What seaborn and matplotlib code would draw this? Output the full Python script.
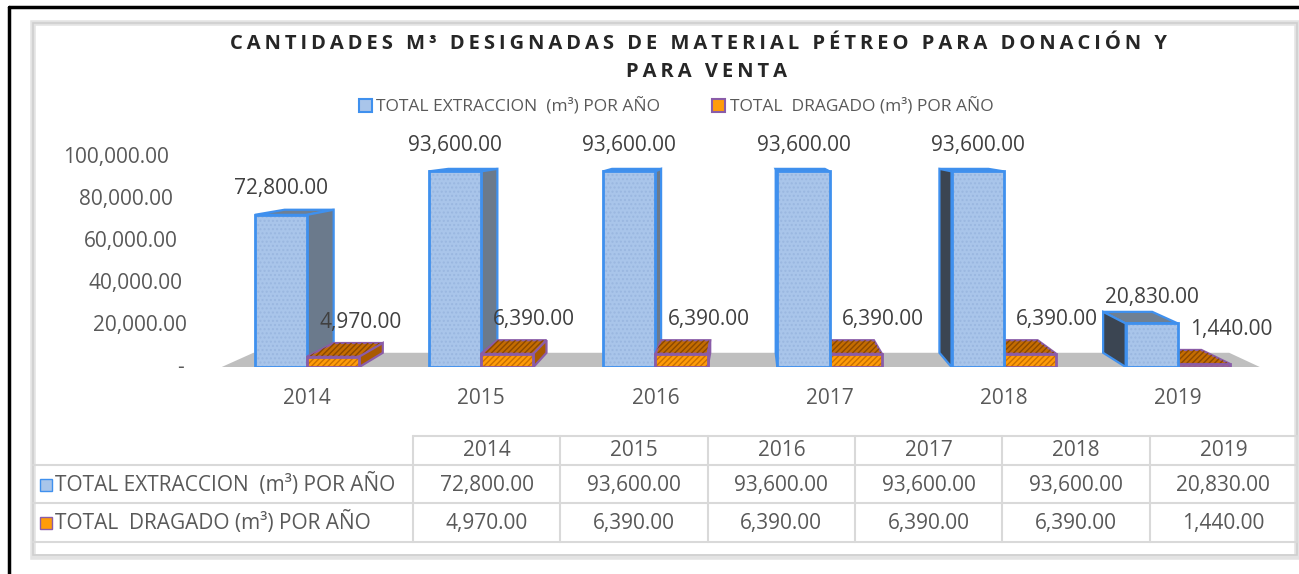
import matplotlib
matplotlib.use("Agg")
import matplotlib.pyplot as plt
import matplotlib.colors as mcolors
from matplotlib.patches import Polygon, Rectangle
from matplotlib.lines import Line2D
import seaborn as sns
import numpy as np
import pandas as pd

# datos
years = ["2014", "2015", "2016", "2017", "2018", "2019"]
extraccion = [72800.00, 93600.00, 93600.00, 93600.00, 93600.00, 20830.00]
dragado = [4970.00, 6390.00, 6390.00, 6390.00, 6390.00, 1440.00]
serie_ext = "TOTAL EXTRACCION  (m³) POR AÑO"
serie_dra = "TOTAL  DRAGADO (m³) POR AÑO"
yticks = [0, 20000, 40000, 60000, 80000, 100000]
ytick_labels = ["-", "20,000.00", "40,000.00", "60,000.00", "80,000.00", "100,000.00"]
title_l1 = "CANTIDADES M³ DESIGNADAS DE MATERIAL PÉTREO PARA DONACIÓN Y"
title_l2 = "PARA VENTA"

df = pd.DataFrame({
    "year": years * 2,
    "value": extraccion + dragado,
    "serie": [serie_ext] * len(years) + [serie_dra] * len(years),
})

BLUE_FRONT = "#a9c5ea"
BLUE_DOTS = "#9ab7e0"
BLUE_EDGE = "#3f90ee"
BLUE_RSIDE = "#6b7a8c"
BLUE_LSIDE = "#3b4552"
BLUE_TOP = "#6f8093"
OR_FRONT = "#ff9c0a"
OR_HATCH = "#c86f00"
OR_EDGE = "#8a5ca8"
OR_TOP = "#c46c00"
OR_SIDE = "#a85a00"
FLOOR = "#bfbfbf"
GRID_C = "#d9d9d9"
TXT = "#595959"
LBL = "#404040"

sns.set_style("white")
plt.rcParams["font.family"] = ["Open Sans", "DejaVu Sans"]
plt.rcParams["hatch.linewidth"] = 1.0

W, H = 1299, 574
fig = plt.figure(figsize=(W / 100, H / 100), dpi=100)


def fx(px):
    return px / W


def fy(py):
    return 1 - py / H


ax = fig.add_axes([fx(220), fy(367), fx(1265) - fx(220), fy(140) - fy(367)])
ax.patch.set_alpha(0)
sns.barplot(data=df, x="year", y="value", hue="serie", hue_order=[serie_ext, serie_dra],
            palette=[BLUE_FRONT, OR_FRONT], saturation=1, width=0.6, ax=ax,
            legend=False, errorbar=None)
ax.set_xlim(-0.5, 5.5)
ax.set_ylim(0, 108600)
for s in ax.spines.values():
    s.set_visible(False)
ax.set_xlabel("")
ax.set_ylabel("")
ax.set_yticks([])
ax.set_xticks(range(len(years)), years)
ax.tick_params(axis="x", length=0, pad=15, labelsize=15, labelcolor=TXT)

# perspectiva simple: punto de fuga
px_x = 1045 / 6.0
px_y = 227 / 108600.0
VX = (750 - 307) / px_x
VY = 237 / px_y
K = 0.06


def back(x, y):
    return x + K * (VX - x), y + K * (VY - y)


# piso
x0f, x1f = -0.49, 5.47
floor = Polygon([(x0f, 0), (x1f, 0), back(x1f, 0), back(x0f, 0)], closed=True,
                facecolor=FLOOR, edgecolor="none", zorder=1)
ax.add_patch(floor)

bars = list(ax.patches)
bars = [b for b in bars if b is not floor]
info = []
for b in bars:
    fc = mcolors.to_rgb(b.get_facecolor())
    is_ext = np.allclose(fc, mcolors.to_rgb(BLUE_FRONT), atol=0.02)
    xc = b.get_x() + b.get_width() / 2
    info.append((abs(xc - VX), b, is_ext))
info.sort(key=lambda t: -t[0])

for rank, (_, b, is_ext) in enumerate(info):
    z = 2 + 3 * rank
    x0 = b.get_x()
    x1 = x0 + b.get_width()
    h = b.get_height()
    if is_ext:
        edge, topc, hatch_c, hatch = BLUE_EDGE, BLUE_TOP, BLUE_DOTS, "...."
    else:
        edge, topc, hatch_c, hatch = OR_EDGE, OR_TOP, OR_HATCH, "//////"
    top = Polygon([(x0, h), (x1, h), back(x1, h), back(x0, h)], closed=True,
                  facecolor=topc, edgecolor=edge, lw=1.6, zorder=z)
    ax.add_patch(top)
    if not is_ext:
        ax.add_patch(Polygon(top.get_xy(), closed=True, facecolor="none",
                             edgecolor="#8a4800", hatch="//////", lw=0, zorder=z))
    if VX > x1:
        side = [(x1, 0), (x1, h), back(x1, h), back(x1, 0)]
        sc = BLUE_RSIDE if is_ext else OR_SIDE
    else:
        side = [(x0, 0), (x0, h), back(x0, h), back(x0, 0)]
        sc = BLUE_LSIDE if is_ext else OR_SIDE
    ax.add_patch(Polygon(side, closed=True, facecolor=sc, edgecolor=edge, lw=1.6, zorder=z))
    b.set_edgecolor(hatch_c)
    b.set_hatch(hatch)
    b.set_linewidth(0)
    b.set_zorder(z + 1)
    ax.add_patch(Rectangle((x0, 0), x1 - x0, h, facecolor="none", edgecolor=edge,
                           lw=2.0, zorder=z + 2))
    # etiqueta de datos
    if is_ext:
        ax.annotate(f"{h:,.2f}", (x0 + (x1 - x0) / 2, h), xytext=(0, 26),
                    textcoords="offset pixels", ha="center", va="center",
                    fontsize=15, color=LBL, zorder=50, annotation_clip=False)
    else:
        ax.annotate(f"{h:,.2f}", (x0 + (x1 - x0) / 2, h), xytext=(27, 34),
                    textcoords="offset pixels", ha="center", va="center",
                    fontsize=15, color=LBL, zorder=50, annotation_clip=False)

# etiquetas eje y (pared inclinada)
for v, lab in zip(yticks, ytick_labels):
    xr = (191 - 307) / px_x - 0.107 * (v * px_y) / px_x
    if lab == "-":
        xr -= 7 / px_x
    ax.text(xr, v, lab, ha="right", va="center", fontsize=15, color=TXT, clip_on=False)

# titulo
sp = "\u2009"
fig.text(fx(698), fy(44), sp.join(title_l1), ha="center", va="center",
         fontsize=14.5, fontweight="bold", color="#262626")
fig.text(fx(706), fy(72), sp.join(title_l2), ha="center", va="center",
         fontsize=14.5, fontweight="bold", color="#262626")

# leyenda
h_ext = Rectangle((0, 0), 1, 1, facecolor=BLUE_FRONT, edgecolor=BLUE_EDGE, lw=1.5)
h_dra = Rectangle((0, 0), 1, 1, facecolor=OR_FRONT, edgecolor=OR_EDGE, lw=1.5)
fig.legend([h_ext, h_dra], [serie_ext, serie_dra], loc="center", ncol=2,
           bbox_to_anchor=(fx(676), fy(107)), frameon=False, fontsize=12.5,
           labelcolor=TXT, handlelength=0.75, handleheight=0.75, handletextpad=0.25,
           columnspacing=3.0, borderaxespad=0)

# tabla de datos
col_x = np.linspace(413, 1297, len(years) + 1)
row_y = [436, 465, 503, 542]
lines = [([413, 1297], [436, 436])]
for yy in row_y[1:]:
    lines.append(([33, 1297], [yy, yy]))
for xx in col_x:
    lines.append(([xx, xx], [436, 542]))
for xs, ys in lines:
    fig.add_artist(Line2D([fx(v) for v in xs], [fy(v) for v in ys], color=GRID_C, lw=1.5))
for i, yv in enumerate(years):
    cx = (col_x[i] + col_x[i + 1]) / 2
    fig.text(fx(cx), fy(451), yv, ha="center", va="center", fontsize=15, color=TXT)
    fig.text(fx(cx), fy(485), f"{extraccion[i]:,.2f}", ha="center", va="center", fontsize=15, color=TXT)
    fig.text(fx(cx), fy(523), f"{dragado[i]:,.2f}", ha="center", va="center", fontsize=15, color=TXT)
for yc, lab, fcol, ecol in [(485, serie_ext, BLUE_FRONT, BLUE_EDGE), (523, serie_dra, OR_FRONT, OR_EDGE)]:
    fig.add_artist(Rectangle((fx(40), fy(yc + 6)), fx(12), 12 / H, facecolor=fcol,
                             edgecolor=ecol, lw=1.0, transform=fig.transFigure))
    fig.text(fx(55), fy(yc), lab, ha="left", va="center", fontsize=15, color=TXT)

# marco del area de grafico
fig.add_artist(Rectangle((fx(33), fy(557)), fx(1297 - 33), (557 - 23) / H, facecolor="none",
                         edgecolor="#e3e3e3", lw=4, transform=fig.transFigure, zorder=0))
fig.add_artist(Rectangle((fx(33), fy(555)), fx(1297 - 33), (555 - 23) / H, facecolor="none",
                         edgecolor="#cfcfcf", lw=1.2, transform=fig.transFigure, zorder=0))
# marco negro exterior
fig.add_artist(Line2D([fx(9), fx(1299)], [fy(7), fy(7)], color="black", lw=2.5))
fig.add_artist(Line2D([fx(9), fx(9)], [fy(7), fy(574)], color="black", lw=2.5))

fig.savefig("out.png", dpi=100)
